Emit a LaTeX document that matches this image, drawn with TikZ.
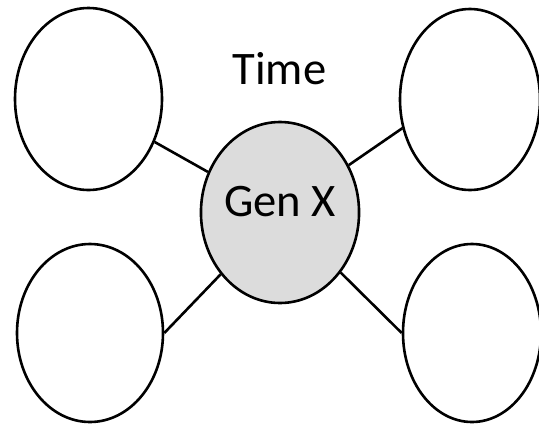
\documentclass[tikz,border=0pt]{standalone}
\usepackage{fontspec}
\setmainfont{Carlito}
\usetikzlibrary{shapes}
\definecolor{genx}{HTML}{DCDCDC}

\begin{document}
\begin{tikzpicture}[x=1pt,y=-1pt]
	\tikzstyle{every node}=[font=\fontsize{46.6}{56}\selectfont]
	\tikzstyle{bubble}=[ellipse,draw,line width=2.6pt,inner sep=0pt]
	\tikzstyle{link}=[line width=2.6pt]
	\useasboundingbox (0,0) rectangle (539,424);
	
	\node[bubble,minimum width=147pt,minimum height=182pt] (tl) at (88.5,99) {};
	\node[bubble,minimum width=140pt,minimum height=181pt] (tr) at (470,99.5) {};
	\node[bubble,minimum width=146pt,minimum height=178pt] (bl) at (90,333) {};
	\node[bubble,minimum width=138pt,minimum height=178pt] (br) at (472,333) {};
	\node[bubble,fill=genx,minimum width=146pt,minimum height=181pt,text depth=23pt] (gen) at (280,212.5) {Gen X};
	\node[anchor=base] (time) at (279.5,84) {Time};
	
	\draw[link] (gen) -- (tl.327);
	\draw[link] (gen) -- (tr.203);
	\draw[link] (gen) -- (bl.east);
	\draw[link] (gen) -- (br.west);
\end{tikzpicture}
\end{document}
